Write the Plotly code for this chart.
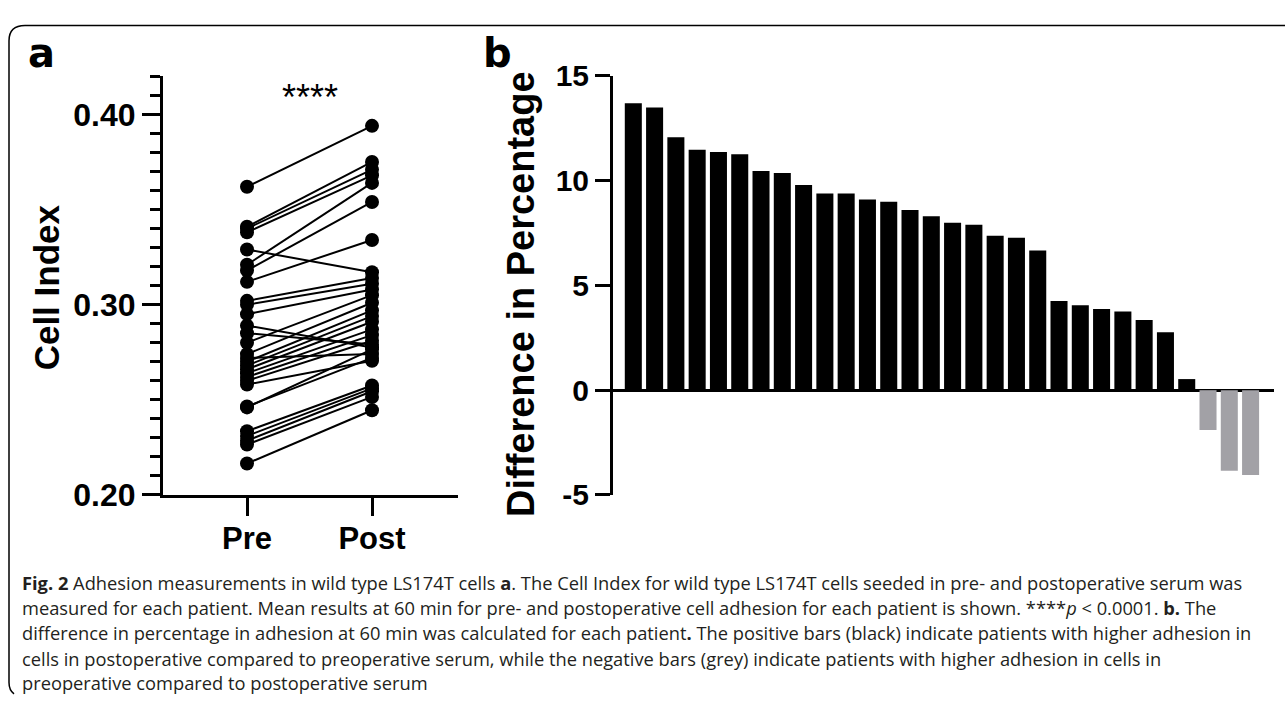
import plotly.graph_objects as go

# ---------------- data ----------------
groups = ["Pre", "Post"]
pre_values = [0.362, 0.341, 0.340, 0.338, 0.329, 0.321, 0.318, 0.312, 0.302, 0.300,
              0.295, 0.289, 0.285, 0.280, 0.274, 0.272, 0.270, 0.268, 0.266, 0.264,
              0.262, 0.260, 0.2465, 0.246, 0.2335, 0.231, 0.2285, 0.2265, 0.2165, 0.258]
post_values = [0.394, 0.375, 0.371, 0.368, 0.317, 0.364, 0.354, 0.334, 0.314, 0.311,
               0.308, 0.2775, 0.279, 0.305, 0.301, 0.274, 0.297, 0.294, 0.291, 0.287,
               0.284, 0.281, 0.272, 0.2765, 0.2575, 0.256, 0.2545, 0.2515, 0.2445, 0.2705]

a_tick_vals = [0.20, 0.30, 0.40]
a_tick_text = ["0.20", "0.30", "0.40"]
a_minor_vals = [0.21, 0.22, 0.23, 0.24, 0.25, 0.26, 0.27, 0.28, 0.29,
                0.31, 0.32, 0.33, 0.34, 0.35, 0.36, 0.37, 0.38, 0.39,
                0.41, 0.42]

diff_percent = [13.7, 13.5, 12.07, 11.48, 11.37, 11.26, 10.46, 10.37, 9.79, 9.39,
                9.39, 9.10, 9.00, 8.60, 8.30, 7.99, 7.90, 7.37, 7.28, 6.67,
                4.26, 4.06, 3.87, 3.76, 3.35, 2.76, 0.53, -1.9, -3.85, -4.05]
patients = list(range(1, len(diff_percent) + 1))
b_tick_vals = [-5, 0, 5, 10, 15]
b_tick_text = ["-5", "0", "5", "10", "15"]

caption_lines = [
    "<b>Fig. 2</b> Adhesion measurements in wild type LS174T cells <b>a</b>. The Cell Index for wild type LS174T cells seeded in pre- and postoperative serum was",
    "measured for each patient. Mean results at 60 min for pre- and postoperative cell adhesion for each patient is shown. ****<i>p</i> &lt; 0.0001. <b>b.</b> The",
    "difference in percentage in adhesion at 60 min was calculated for each patient<b>.</b> The positive bars (black) indicate patients with higher adhesion in",
    "cells in postoperative compared to preoperative serum, while the negative bars (grey) indicate patients with higher adhesion in cells in",
    "preoperative compared to postoperative serum",
]

# ---------------- figure ----------------
W, H = 1285, 710
FONT = "Liberation Sans, Arial, sans-serif"

def px(x):
    return x / W

def py(y):
    return 1 - y / H

fig = go.Figure()

# panel a: paired lines
xs, ys = [], []
for p0, p1 in zip(pre_values, post_values):
    xs += [groups[0], groups[1], None]
    ys += [p0, p1, None]
fig.add_trace(go.Scatter(
    x=xs, y=ys, mode="lines+markers", xaxis="x", yaxis="y",
    line=dict(color="black", width=2),
    marker=dict(color="black", size=14),
    showlegend=False, connectgaps=False, hoverinfo="skip",
))

# panel b: bars
bar_colors = ["black" if v >= 0 else "#a2a1a6" for v in diff_percent]
fig.add_trace(go.Bar(
    x=patients, y=diff_percent, xaxis="x2", yaxis="y2",
    marker=dict(color=bar_colors, line=dict(width=0)),
    width=0.8, showlegend=False,
))

xtickfont = dict(family=FONT, size=31, color="black", weight="bold")
ytickfont = dict(family=FONT, size=32, color="black", weight="bold")

fig.update_layout(
    width=W, height=H,
    margin=dict(l=0, r=0, t=0, b=0),
    paper_bgcolor="white", plot_bgcolor="white",
    xaxis=dict(
        domain=[px(163), px(458)], anchor="y",
        type="category", categoryorder="array", categoryarray=groups,
        range=[-0.672, 1.688],
        showline=True, linecolor="black", linewidth=3,
        ticks="outside", ticklen=18, tickwidth=3, tickcolor="black",
        tickfont=xtickfont, ticklabelstandoff=-4,
        showgrid=False, zeroline=False,
    ),
    yaxis=dict(
        domain=[py(503), py(63)], anchor="x",
        range=[0.2, 0.4202],
        tickmode="array", tickvals=a_tick_vals, ticktext=a_tick_text,
        showline=True, linecolor="black", linewidth=3,
        ticks="outside", ticklen=18, tickwidth=3, tickcolor="black",
        tickfont=ytickfont, showgrid=False, zeroline=False,
        minor=dict(tickmode="array", tickvals=a_minor_vals, ticks="outside",
                   ticklen=10, tickwidth=3, tickcolor="black", showgrid=False),
    ),
    xaxis2=dict(
        domain=[px(613), px(1274)], anchor="y2",
        range=[0.046, 31.1],
        showline=False, showticklabels=False, ticks="",
        showgrid=False, zeroline=False,
    ),
    yaxis2=dict(
        domain=[py(503), py(63)], anchor="x2",
        range=[-5, 15],
        tickmode="array", tickvals=b_tick_vals, ticktext=b_tick_text,
        showline=True, linecolor="black", linewidth=3,
        ticks="outside", ticklen=15, tickwidth=3, tickcolor="black",
        tickfont=dict(family=FONT, size=30, color="black", weight="bold"),
        showgrid=False,
        zeroline=True, zerolinecolor="black", zerolinewidth=3,
    ),
)

ann = []
ann.append(dict(text="Cell Index", x=px(46), y=py(285), xref="paper", yref="paper",
                xanchor="center", yanchor="middle", textangle=-90, showarrow=False,
                font=dict(family=FONT, size=35, color="black", weight="bold")))
ann.append(dict(text="Difference in Percentage", x=px(521), y=py(292), xref="paper", yref="paper",
                xanchor="center", yanchor="middle", textangle=-90, showarrow=False,
                font=dict(family=FONT, size=38, color="black", weight="bold")))
ann.append(dict(text="a", x=px(41.5), y=py(39), xref="paper", yref="paper",
                xanchor="center", yanchor="middle", showarrow=False,
                font=dict(family="DejaVu Sans, sans-serif", size=40, color="black", weight="bold")))
ann.append(dict(text="b", x=px(497), y=py(39), xref="paper", yref="paper",
                xanchor="center", yanchor="middle", showarrow=False,
                font=dict(family="DejaVu Sans, sans-serif", size=40, color="black", weight="bold")))
ann.append(dict(text="****", x=0.5, y=0.409, xref="x", yref="y",
                xanchor="center", yanchor="middle", showarrow=False,
                font=dict(family=FONT, size=36, color="black")))

caption_y = [595, 621.5, 648, 674.5, 700]
for line, yy in zip(caption_lines, caption_y):
    ann.append(dict(text=line, x=px(20), y=py(yy), xref="paper", yref="paper",
                    xanchor="left", yanchor="middle", showarrow=False,
                    font=dict(family="Open Sans, sans-serif", size=18.3, color="#231f20")))
fig.update_layout(annotations=ann)

# rounded frame around the figure (open at the right side)
fig.add_shape(type="path", xref="paper", yref="paper",
              path=f"M {px(1290)} {py(10)} L {px(25)} {py(10)} Q {px(9)} {py(10)} {px(9)} {py(26)} "
                   f"L {px(9)} {py(700)} Q {px(9)} {py(708)} {px(14)} {py(712)}",
              line=dict(color="black", width=1.5))

# pin the figure to the top-left corner of the page (no body margin)
pin_js = (
    "document.documentElement.style.margin='0';"
    "document.body.style.margin='0';"
    "document.body.style.overflow='hidden';"
    "var d=document.getElementById('{plot_id}');"
    "d.style.position='fixed';d.style.left='0px';d.style.top='0px';"
)

fig.write_html("out.html", post_script=pin_js, config={"displayModeBar": False})
